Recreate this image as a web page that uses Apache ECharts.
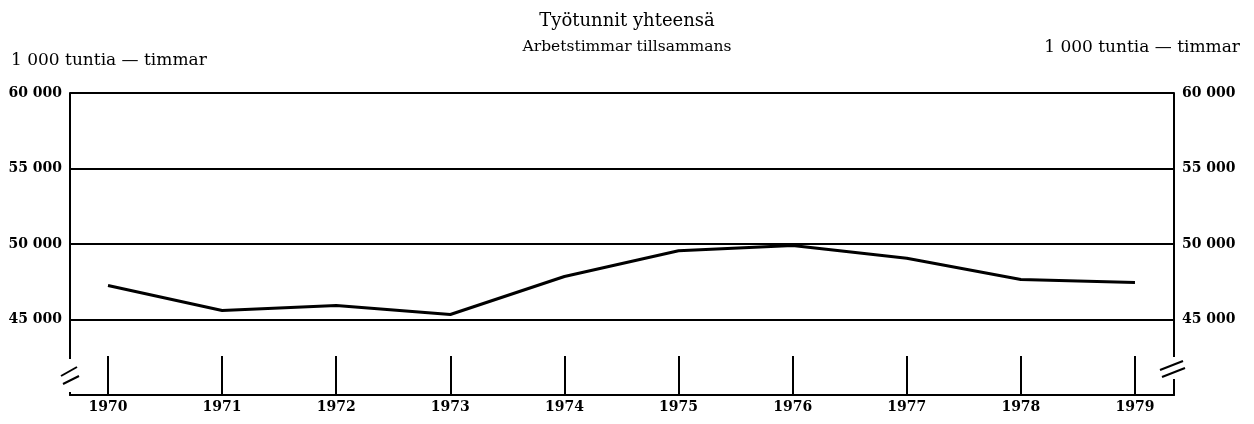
<!DOCTYPE html>
<html>
<head>
<meta charset="utf-8">
<script src="https://cdn.jsdelivr.net/npm/echarts@6/dist/echarts.min.js"></script>
<style>
  html, body { margin: 0; padding: 0; background: #fff; }
  #main { width: 1254px; height: 424px; }
</style>
</head>
<body>
<div id="main"></div>
<script>
// vuodet / år
var years = [1970, 1971, 1972, 1973, 1974, 1975, 1976, 1977, 1978, 1979];
// 1 000 tuntia — timmar
var hours = [47250, 45600, 45930, 45330, 47850, 49550, 49900, 49050, 47650, 47450];
var yTicks = [45000, 50000, 55000, 60000];
var titleLines = ['Työtunnit yhteensä', 'Arbetstimmar tillsammans'];
var unitText = '1 000 tuntia — timmar';

var serif = '"DejaVu Serif", serif';

function fmt(v) {
  if (yTicks.indexOf(v) < 0) return '';
  var s = String(v);
  return s.slice(0, s.length - 3) + ' ' + s.slice(-3);
}

var myChart = echarts.init(document.getElementById('main'));

var yAxisBase = {
  type: 'value',
  min: 40000,
  max: 60000,
  interval: 5000,
  axisLine: { show: true, lineStyle: { color: '#000', width: 2 } },
  axisTick: { show: false },
  splitLine: { show: true, lineStyle: { color: '#000', width: 2 } },
  axisLabel: {
    formatter: fmt,
    color: '#000',
    fontFamily: serif,
    fontWeight: 'bold',
    fontSize: 14,
    margin: 8
  }
};

var option = {
  animation: false,
  backgroundColor: '#fff',
  title: {
    text: '{a|' + titleLines[0] + '}\n{b|' + titleLines[1] + '}',
    left: 'center',
    top: 3,
    textStyle: {
      fontWeight: 'normal',
      rich: {
        a: { color: '#000', fontFamily: serif, fontWeight: 'normal', fontSize: 18, lineHeight: 26 },
        b: { color: '#000', fontFamily: serif, fontWeight: 'normal', fontSize: 15.5, lineHeight: 26 }
      }
    }
  },
  grid: { left: 70, right: 80, top: 93, bottom: 29 },
  xAxis: {
    type: 'value',
    min: 1969.667,
    max: 1979.342,
    axisLine: { show: true, onZero: false, lineStyle: { color: '#000', width: 2 } },
    axisTick: {
      show: true,
      inside: true,
      length: 39,
      customValues: years,
      lineStyle: { color: '#000', width: 2 }
    },
    axisLabel: {
      customValues: years,
      formatter: function (v) { return String(Math.round(v)); },
      color: '#000',
      fontFamily: serif,
      fontWeight: 'bold',
      fontSize: 14,
      margin: 5
    },
    splitLine: { show: false }
  },
  yAxis: [
    Object.assign({}, yAxisBase, { position: 'left' }),
    Object.assign({}, yAxisBase, { position: 'right', splitLine: { show: false } })
  ],
  series: [{
    name: 'Työtunnit',
    type: 'line',
    symbol: 'none',
    z: 5,
    lineStyle: { color: '#000', width: 3 },
    data: years.map(function (y, i) { return [y, hours[i]]; })
  }],
  graphic: [
    // katkos vasemmalla
    { type: 'rect', z: 100, shape: { x: 66, y: 359, width: 8, height: 33 }, style: { fill: '#fff' } },
    { type: 'line', z: 101, shape: { x1: 61, y1: 376, x2: 77, y2: 367 }, style: { stroke: '#000', lineWidth: 2 } },
    { type: 'line', z: 101, shape: { x1: 63, y1: 384, x2: 79, y2: 376 }, style: { stroke: '#000', lineWidth: 2 } },
    // katkos oikealla
    { type: 'rect', z: 100, shape: { x: 1170, y: 357, width: 8, height: 22 }, style: { fill: '#fff' } },
    { type: 'line', z: 101, shape: { x1: 1160, y1: 370, x2: 1183, y2: 361 }, style: { stroke: '#000', lineWidth: 2 } },
    { type: 'line', z: 101, shape: { x1: 1162, y1: 377, x2: 1185, y2: 368 }, style: { stroke: '#000', lineWidth: 2 } },
    {
      type: 'text', left: 11, top: 52,
      style: { text: unitText, fill: '#000', font: '17px ' + serif }
    },
    {
      type: 'text', right: 14, top: 39,
      style: { text: unitText, fill: '#000', font: '17px ' + serif }
    }
  ]
};

myChart.setOption(option);
window.onresize = myChart.resize;
</script>
</body>
</html>
